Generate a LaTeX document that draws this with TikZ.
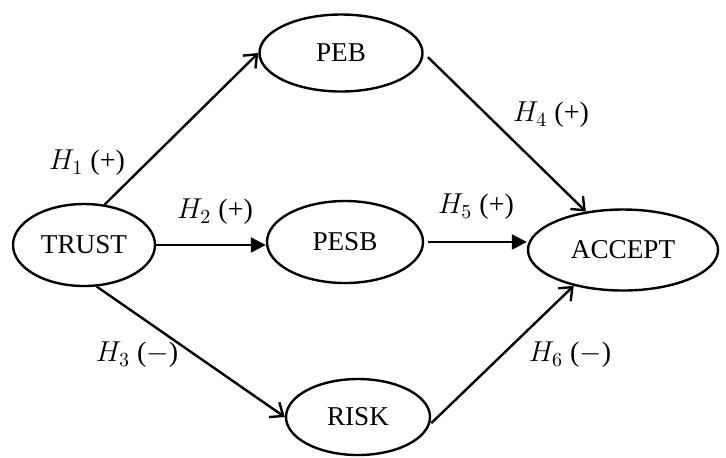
\documentclass[tikz,border=0pt]{standalone}
\usepackage{fontspec}
\setmainfont{Liberation Serif}
\usetikzlibrary{shapes.geometric,arrows.meta}

\tikzset{
  var/.style={draw,ellipse,line width=1.2pt,inner sep=0pt,font=\fontsize{13.6}{16}\selectfont},
  hyp/.style={font=\fontsize{14}{16}\selectfont},
  openarr/.style={line width=1.2pt,-{Straight Barb[length=5.5pt,width=9pt]}},
  fillarr/.style={line width=1.2pt,-{Triangle[length=7.5pt,width=7.5pt]}},
}

\begin{document}
\begin{tikzpicture}[x=0.5pt,y=-0.5pt]
\useasboundingbox (0,0) rectangle (726,457);

% constructs
\node[var,minimum width=71pt,minimum height=41pt] (trust) at (84,245) {TRUST};
\node[var,minimum width=81.5pt,minimum height=38.5pt] (peb) at (341,53) {PEB};
\node[var,minimum width=78pt,minimum height=41pt] (pesb) at (345,242) {PESB};
\node[var,minimum width=72pt,minimum height=38pt] (risk) at (358,417) {RISK};
\node[var,minimum width=95pt,minimum height=40.5pt] (accept) at (623,250) {ACCEPT};

% hypotheses
\draw[openarr] (trust.63) -- (peb.west);
\draw[fillarr] (trust.east) -- (pesb.west |- trust.east);
\draw[openarr] (trust.-73) -- (risk.west);
\draw[openarr,shorten <=3pt] (peb.east) -- (accept.134);
\draw[fillarr,shorten <=2pt] (pesb.east) -- (accept.west |- pesb.east);
\draw[openarr,shorten <=1pt] (risk.-6) -- (accept.216);

\node[hyp] (h1) at (87,163) {$H_1$ (+)};
\node[hyp] (h2) at (215,212) {$H_2$ (+)};
\node[hyp] (h3) at (137,355) {$H_3$ ($-$)};
\node[hyp] (h4) at (551,115) {$H_4$ (+)};
\node[hyp] (h5) at (476,207) {$H_5$ (+)};
\node[hyp] (h6) at (570,355) {$H_6$ ($-$)};
\end{tikzpicture}
\end{document}
